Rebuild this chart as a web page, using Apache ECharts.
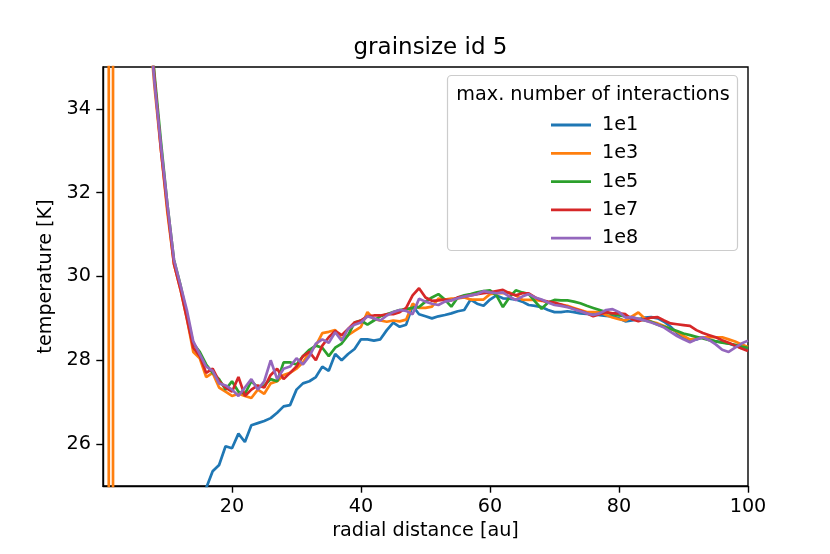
<!DOCTYPE html>
<html>
<head>
<meta charset="utf-8">
<script src="https://cdn.jsdelivr.net/npm/echarts@6/dist/echarts.min.js"></script>
<style>html,body{margin:0;padding:0;background:#fff}#c{width:830px;height:554px}</style>
</head>
<body>
<div id="c"></div>
<script>
const seriesNames = ['1e1', '1e3', '1e5', '1e7', '1e8'];
const xTicks = [20, 40, 60, 80, 100];
const yTicks = [26, 28, 30, 32, 34];

const radius = [
  6,7,8,9,10,11,12,13,14,15,
  16,17,18,19,20,21,22,23,24,25,
  26,27,28,29,30,31,32,33,34,35,
  36,37,38,39,40,41,42,43,44,45,
  46,47,48,49,50,51,52,53,54,55,
  56,57,58,59,60,61,62,63,64,65,
  66,67,68,69,70,71,72,73,74,75,
  76,77,78,79,80,81,82,83,84,85,
  86,87,88,89,90,91,92,93,94,95,
  96,97,98,99,100
];

const temp1e1 = [
  null,null,null,null,null,null,null,23.8,24.2,24.6,
  24.95,25.35,25.5,25.95,25.9,26.25,26.05,26.45,26.5,26.55,
  26.62,26.75,26.9,26.93,27.3,27.45,27.5,27.6,27.85,27.75,
  28.15,28.0,28.15,28.27,28.5,28.5,28.47,28.5,28.72,28.9,
  28.8,28.85,29.3,29.1,29.05,29.0,29.05,29.08,29.12,29.17,
  29.2,29.45,29.35,29.3,29.45,29.55,29.48,29.47,29.45,29.4,
  29.32,29.3,29.27,29.2,29.15,29.15,29.17,29.15,29.12,29.11,
  29.1,29.08,29.06,29.05,29.0,28.93,28.95,28.98,29.02,29.03,
  29.0,28.92,28.8,28.65,28.52,28.47,28.5,28.55,28.5,28.45,
  28.43,28.4,28.35,28.3,28.27
];

const innerRadius1e3 = [0.6, 1.2, 1.9, 3, 5];
const innerTemp1e3 = [3000, -3000, 3000, 150, 55];
const temp1e3 = [
  39.2,36.3,34.5,33.0,31.5,30.3,29.7,29.0,28.2,28.05,
  27.6,27.7,27.35,27.25,27.15,27.2,27.15,27.1,27.3,27.2,
  27.45,27.5,27.65,27.7,27.8,27.95,28.2,28.35,28.65,28.68,
  28.72,28.5,28.6,28.7,28.8,29.15,28.98,28.95,28.92,28.95,
  28.93,28.97,29.35,29.25,29.25,29.28,29.47,29.45,29.47,29.48,
  29.5,29.45,29.45,29.45,29.58,29.6,29.6,29.62,29.55,29.45,
  29.44,29.44,29.42,29.38,29.35,29.33,29.3,29.25,29.2,29.15,
  29.15,29.15,29.08,29.02,28.98,28.95,29.05,29.14,29.0,28.92,
  28.88,28.82,28.75,28.68,28.58,28.5,28.52,28.55,28.55,28.55,
  28.55,28.5,28.45,28.38,28.32
];

const temp1e5 = [
  39.7,36.6,34.8,33.2,31.7,30.4,29.8,29.1,28.4,28.2,
  27.9,27.7,27.55,27.3,27.5,27.25,27.2,27.5,27.35,27.4,
  27.55,27.5,27.95,27.95,27.9,28.1,28.25,28.35,28.3,28.1,
  28.3,28.4,28.6,28.9,28.95,28.85,28.95,29.05,29.1,29.15,
  29.2,29.22,29.25,29.27,29.4,29.5,29.58,29.45,29.28,29.5,
  29.55,29.58,29.62,29.65,29.67,29.55,29.27,29.5,29.67,29.62,
  29.58,29.4,29.23,29.38,29.44,29.43,29.43,29.4,29.36,29.3,
  29.25,29.2,29.15,29.1,29.07,29.05,29.02,28.99,28.95,28.92,
  28.85,28.8,28.75,28.7,28.64,28.6,28.56,28.52,28.48,28.45,
  28.42,28.4,28.37,28.33,28.3
];

const temp1e7 = [
  39.6,36.5,34.7,33.0,31.6,30.3,29.7,29.0,28.3,28.1,
  27.7,27.8,27.5,27.35,27.25,27.6,27.15,27.3,27.4,27.35,
  27.65,27.8,27.55,27.7,27.85,28.1,28.2,28.0,28.35,28.55,
  28.7,28.6,28.75,28.9,28.95,29.05,29.07,29.07,29.1,29.1,
  29.15,29.25,29.55,29.72,29.5,29.42,29.43,29.45,29.43,29.5,
  29.52,29.55,29.58,29.6,29.62,29.65,29.68,29.6,29.55,29.6,
  29.6,29.5,29.43,29.4,29.38,29.33,29.28,29.23,29.18,29.12,
  29.05,29.1,29.15,29.12,29.12,29.1,28.98,28.93,28.98,29.02,
  29.03,28.95,28.88,28.86,28.84,28.82,28.72,28.65,28.6,28.55,
  28.48,28.42,28.35,28.28,28.22
];

const temp1e8 = [
  39.5,36.4,34.6,33.1,31.7,30.4,29.8,29.2,28.45,28.15,
  27.85,27.75,27.45,27.4,27.3,27.15,27.35,27.55,27.3,27.5,
  28.0,27.55,27.8,27.85,28.05,27.9,28.1,28.4,28.5,28.42,
  28.67,28.47,28.75,28.85,28.9,29.05,29.0,28.95,29.07,29.15,
  29.2,29.18,29.1,29.47,29.4,29.35,29.32,29.4,29.43,29.48,
  29.52,29.55,29.58,29.65,29.62,29.6,29.62,29.52,29.44,29.52,
  29.58,29.5,29.45,29.38,29.32,29.3,29.27,29.22,29.17,29.12,
  29.08,29.12,29.2,29.22,29.15,29.02,29.03,28.99,28.95,28.9,
  28.85,28.78,28.68,28.58,28.5,28.43,28.5,28.55,28.48,28.38,
  28.25,28.2,28.3,28.4,28.47
];

const colors = ['#1f77b4', '#ff7f0e', '#2ca02c', '#d62728', '#9467bd'];
const FONT = 'DejaVu Sans';
const FS = 19.2;

function pairs(xs, ys) {
  const out = [];
  for (let i = 0; i < xs.length; i++) out.push([xs[i], ys[i]]);
  return out;
}

const data1e3 = pairs(innerRadius1e3, innerTemp1e3).concat(pairs(radius, temp1e3));
const allData = [pairs(radius, temp1e1), data1e3, pairs(radius, temp1e5), pairs(radius, temp1e7), pairs(radius, temp1e8)];

const chart = echarts.init(document.getElementById('c'), null, {renderer: 'canvas'});
const option = {
  animation: false,
  backgroundColor: '#fff',
  color: colors,
  title: [{
    text: 'grainsize id 5',
    left: 425.5, top: 32, textAlign: 'center',
    textStyle: {fontFamily: FONT, fontSize: 23, fontWeight: 'normal', color: '#000'}
  }, {
    text: 'max. number of interactions',
    left: 588, top: 81, textAlign: 'center', z: 10,
    textStyle: {fontFamily: FONT, fontSize: FS, fontWeight: 'normal', color: '#000'}
  }],
  grid: {left: 103, right: 82, top: 67, bottom: 68, show: true, borderColor: '#000', borderWidth: 1.4, containLabel: false},
  legend: {
    orient: 'vertical', left: 546, top: 109, z: 10,
    icon: 'rect', itemWidth: 40, itemHeight: 2.8, itemGap: 6.3,
    textStyle: {fontFamily: FONT, fontSize: FS, color: '#000', lineHeight: 22, padding: [0, 0, 0, 6]},
    data: seriesNames
  },
  graphic: [{
    type: 'rect', z: 1, shape: {x: 447.5, y: 75.5, width: 290, height: 175, r: 4},
    style: {fill: 'rgba(255,255,255,0.8)', stroke: '#cccccc', lineWidth: 1.2}
  }],
  xAxis: {
    type: 'value', min: 0, max: 100, interval: 20,
    name: 'radial distance [au]', nameLocation: 'middle', nameGap: 35,
    nameTextStyle: {fontFamily: FONT, fontSize: FS, color: '#000'},
    axisLine: {show: true, onZero: false, lineStyle: {color: '#000', width: 1.4}},
    axisTick: {show: true, length: 6.7, lineStyle: {color: '#000', width: 1.4}, customValues: xTicks},
    axisLabel: {fontFamily: FONT, fontSize: FS, color: '#000', margin: 12, customValues: xTicks},
    splitLine: {show: false}
  },
  yAxis: {
    type: 'value', min: 25, max: 35,
    name: 'temperature [K]', nameLocation: 'middle', nameGap: 43,
    nameTextStyle: {fontFamily: FONT, fontSize: FS, color: '#000'},
    axisLine: {show: true, onZero: false, lineStyle: {color: '#000', width: 1.4}},
    axisTick: {show: true, length: 6.7, lineStyle: {color: '#000', width: 1.4}, customValues: yTicks},
    axisLabel: {fontFamily: FONT, fontSize: FS, color: '#000', margin: 12, customValues: yTicks},
    splitLine: {show: false}
  },
  series: seriesNames.map((n, i) => ({
    name: n, type: 'line', data: allData[i], showSymbol: false, symbol: 'none',
    clip: true, connectNulls: false,
    lineStyle: {width: 2.7, color: colors[i]}, z: 2 + i
  }))
};
chart.setOption(option);
</script>
</body>
</html>
